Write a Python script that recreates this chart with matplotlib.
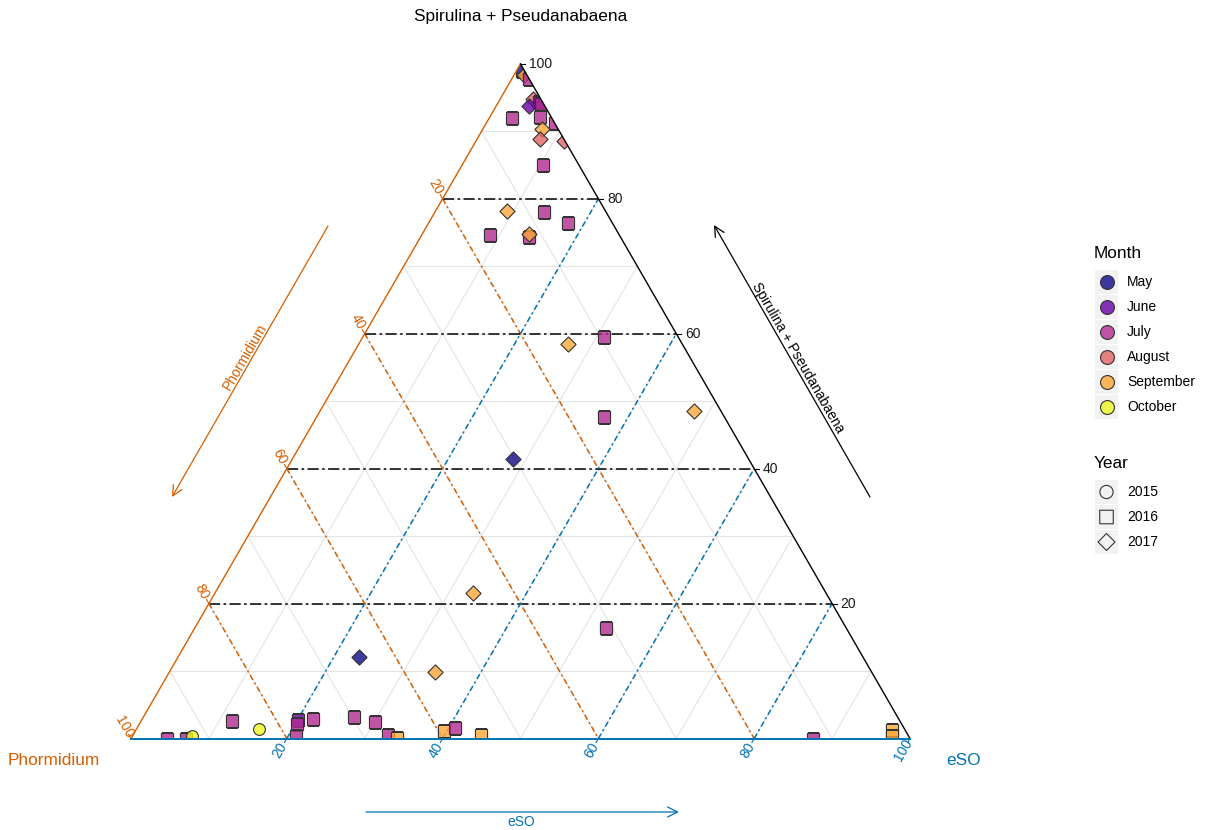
import numpy as np
import matplotlib
matplotlib.use("Agg")
import matplotlib.pyplot as plt
from matplotlib.patches import Polygon, Rectangle
from matplotlib.colors import to_rgba

plt.rcParams['font.family'] = ['Liberation Sans', 'DejaVu Sans']
plt.rcParams['lines.scale_dashes'] = False

# Relative composition (%) of each sample
spirulina = [98.9, 98.4, 97.8, 94.8, 94.4, 93.8, 94.1, 92.0, 92.1, 91.2,
             90.4, 88.9, 88.6, 85.0, 78.2, 78.0, 76.4, 74.6, 74.3, 74.8,
             58.5, 59.5, 47.7, 48.5, 41.4, 21.6, 16.4, 12.1, 9.9,
             0.0, 0.0, 0.4, 2.6, 1.4, 2.7, 2.2, 0.3, 2.9, 3.2, 2.4,
             0.5, 0.1, 1.1, 1.6, 0.5, 0.0, 1.3, 0.3]
phormidium = [0.4, 0.3, 0.0, 1.0, 0.4, 2.0, 0.3, 5.1, 1.5, 0.0,
              2.0, 3.0, 0.1, 4.6, 12.6, 8.0, 5.7, 16.6, 11.8, 11.5,
              14.7, 9.5, 15.4, 3.5, 30.3, 45.3, 30.8, 64.7, 56.0,
              95.4, 92.9, 92.0, 85.7, 82.9, 77.2, 77.6, 78.7, 75.2, 69.8, 67.5,
              66.8, 65.8, 59.3, 57.6, 54.8, 12.5, 1.7, 2.1]
eso = [0.7, 1.3, 2.2, 4.2, 5.2, 4.2, 5.6, 2.9, 6.4, 8.8,
       7.6, 8.1, 11.3, 10.4, 9.2, 14.0, 17.9, 8.8, 13.9, 13.7,
       26.8, 31.0, 36.9, 48.0, 28.3, 33.1, 52.8, 23.2, 34.1,
       4.6, 7.1, 7.6, 11.7, 15.7, 20.1, 20.2, 21.0, 21.9, 27.0, 30.1,
       32.7, 34.1, 39.6, 40.8, 44.7, 87.5, 97.0, 97.6]
month = ["May", "September", "July", "August", "June", "June", "July", "July", "July", "July",
         "September", "August", "August", "July", "September", "July", "July", "July", "July", "September",
         "September", "July", "July", "September", "May", "September", "July", "May", "September",
         "July", "July", "October", "July", "October", "June", "July", "July", "July", "July", "July",
         "July", "September", "September", "July", "September", "July", "September", "September"]
year = [2016, 2017, 2016, 2017, 2016, 2017, 2016, 2016, 2016, 2016,
        2017, 2017, 2017, 2016, 2017, 2016, 2016, 2016, 2016, 2017,
        2017, 2016, 2016, 2017, 2017, 2017, 2016, 2017, 2017,
        2016, 2016, 2015, 2016, 2015, 2016, 2016, 2016, 2016, 2016, 2016,
        2016, 2016, 2016, 2016, 2016, 2016, 2016, 2016]

months = ["May", "June", "July", "August", "September", "October"]
month_colors = ["#0D0887", "#6A00A8", "#B12A90", "#E16462", "#FCA636", "#F0F921"]
years = [2015, 2016, 2017]
year_marker = {2015: 'o', 2016: 's', 2017: 'D'}
year_size = {2015: 72, 2016: 76, 2017: 60}

ORANGE = "#D55E00"
BLUE = "#0072B2"
GRID = "#E4E4E4"
EDGE = "#333333"
ALPHA = 0.8

W, H = 1207, 830
fig = plt.figure(figsize=(W / 100, H / 100), dpi=100)

# Triangle placement on the canvas: bottom-left corner and px per percent
x0, y0 = 131.0, 738.5
scale = 7.79

ax = fig.add_axes([0, 0, 1, 1])
ax.set_xlim(-x0 / scale, (W - x0) / scale)
ax.set_ylim(-(H - y0) / scale, y0 / scale)
ax.axis('off')

h = np.sqrt(3) / 2


def tern(t, l, r):
    t = np.asarray(t, float)
    l = np.asarray(l, float)
    r = np.asarray(r, float)
    tot = t + l + r
    t, r = 100 * t / tot, 100 * r / tot
    return r + t / 2, t * h


# light grid every 10 %
for v in range(10, 100, 10):
    for seg in (tern([v, v], [100 - v, 0], [0, 100 - v]),
                tern([100 - v, 0], [v, v], [0, 100 - v]),
                tern([0, 100 - v], [100 - v, 0], [v, v])):
        ax.plot(*seg, color=GRID, lw=0.8, zorder=1)

# major reference lines every 20 %
for v in range(20, 100, 20):
    ax.plot(*tern([v, v], [100 - v, 0], [0, 100 - v]), color='black', lw=1.1,
            dashes=(8, 2.5, 1.8, 2.5), zorder=2)
    ax.plot(*tern([100 - v, 0], [v, v], [0, 100 - v]), color=ORANGE, lw=1.1,
            dashes=(4, 2.2, 1.5, 2.2), zorder=2)
    ax.plot(*tern([0, 100 - v], [100 - v, 0], [v, v]), color=BLUE, lw=1.1,
            dashes=(4, 2.2, 1.5, 2.2), zorder=2)

# triangle used to clip the markers
corners = np.column_stack(tern([0, 100, 0], [100, 0, 0], [0, 0, 100]))
clip_tri = Polygon(corners, closed=True, transform=ax.transData)

for t, l, r, m, yr in zip(spirulina, phormidium, eso, month, year):
    x, y = tern(t, l, r)
    fc = to_rgba(month_colors[months.index(m)], ALPHA)
    sc = ax.scatter([x], [y], marker=year_marker[yr], s=year_size[yr],
                    facecolor=[fc], edgecolor=EDGE, linewidths=0.8, zorder=4)
    sc.set_snap(False)
    sc.set_joinstyle('miter')
    sc.set_clip_path(clip_tri)

# triangle edges
ax.plot(*tern([0, 100], [100, 0], [0, 0]), color=ORANGE, lw=1.0, zorder=5)
ax.plot(*tern([100, 0], [0, 0], [0, 100]), color='black', lw=1.0, zorder=5)
ax.plot(*tern([0, 0], [100, 0], [0, 100]), color=BLUE, lw=1.4, zorder=5)

# ticks and tick labels
tick_vals = [20, 40, 60, 80, 100]
tl = 0.6
for v in tick_vals:
    # Spirulina + Pseudanabaena on the right edge
    x, y = tern(v, 0, 100 - v)
    ax.plot([x, x + tl], [y, y], color='black', lw=0.8, zorder=5)
    ax.text(x + 1.1, y, str(v), ha='left', va='center', fontsize=10, color='#1A1A1A')
    # Phormidium on the left edge
    x, y = tern(100 - v, v, 0)
    dx, dy = -0.5, h
    ax.plot([x, x + tl * dx], [y, y + tl * dy], color=ORANGE, lw=0.8, zorder=5)
    ax.text(x + 1.75 * dx, y + 1.75 * dy, str(v), ha='center', va='center',
            rotation=-60, fontsize=10, color=ORANGE)
    # eSO on the bottom edge
    x, y = tern(0, 100 - v, v)
    dx, dy = -0.5, -h
    ax.plot([x, x + tl * dx], [y, y + tl * dy], color=BLUE, lw=0.8, zorder=5)
    ax.text(x + 1.75 * dx, y + 1.75 * dy, str(v), ha='center', va='center',
            rotation=60, fontsize=10, color=BLUE)

# overlay in canvas pixels for titles, arrows and legend
ov = fig.add_axes([0, 0, 1, 1], facecolor='none')
ov.set_xlim(0, W)
ov.set_ylim(H, 0)
ov.axis('off')

ov.text(521, 17, "Spirulina + Pseudanabaena", ha='center', va='center', fontsize=12.4)
ov.text(54, 760, "Phormidium", ha='center', va='center', fontsize=12.4, color=ORANGE)
ov.text(964, 760, "eSO", ha='center', va='center', fontsize=12.4, color=BLUE)

arrow_kw = dict(arrowstyle='->,head_length=0.6,head_width=0.3', lw=0.9,
                shrinkA=0, shrinkB=0, mutation_scale=12)
ov.annotate('', xy=(172, 497), xytext=(328, 226),
            arrowprops=dict(color=ORANGE, **arrow_kw))
ov.text(245, 357, "Phormidium", rotation=60, ha='center', va='center',
        fontsize=10, color=ORANGE)
ov.annotate('', xy=(714, 225), xytext=(870, 497),
            arrowprops=dict(color='black', **arrow_kw))
ov.text(798, 358, "Spirulina + Pseudanabaena", rotation=-60, ha='center', va='center',
        fontsize=10, color='black')
ov.annotate('', xy=(679, 812), xytext=(366, 812),
            arrowprops=dict(color=BLUE, **arrow_kw))
ov.text(521, 822, "eSO", ha='center', va='center', fontsize=10, color=BLUE)

# legends
KEY_BG = "#F2F2F2"
ov.text(1094, 253, "Month", ha='left', va='center', fontsize=12.4)
for i, (m, c) in enumerate(zip(months, month_colors)):
    yc = 282 + 25 * i
    ov.add_patch(Rectangle((1095, yc - 12), 23, 24, facecolor=KEY_BG, edgecolor='none'))
    ov.scatter([1106.5], [yc], marker='o', s=100, facecolor=[to_rgba(c, ALPHA)],
               edgecolor=EDGE, linewidths=0.8, zorder=3)
    ov.text(1127, yc, m, ha='left', va='center', fontsize=10)

ov.text(1094, 463, "Year", ha='left', va='center', fontsize=12.4)
for i, yr in enumerate(years):
    yc = 492 + 25 * i
    ov.add_patch(Rectangle((1095, yc - 12), 23, 24, facecolor=KEY_BG, edgecolor='none'))
    sc = ov.scatter([1106.5], [yc], marker=year_marker[yr], s=year_size[yr] * 1.25,
                    facecolor='none', edgecolor='#333333', linewidths=0.8, zorder=3)
    sc.set_snap(False)
    sc.set_joinstyle('miter')
    ov.text(1127, yc, str(yr), ha='left', va='center', fontsize=10)

fig.savefig("out.png", dpi=100)
